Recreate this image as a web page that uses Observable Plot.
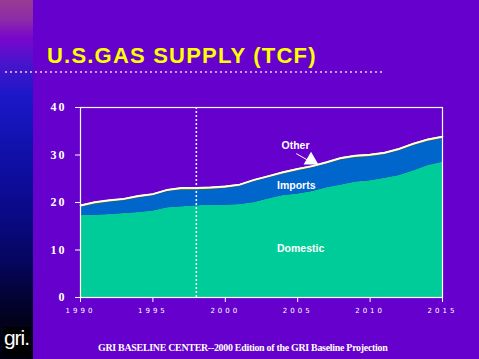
<!DOCTYPE html>
<html>
<head>
<meta charset="utf-8">
<script src="https://cdn.jsdelivr.net/npm/d3@7"></script>
<script src="https://cdn.jsdelivr.net/npm/@observablehq/plot@0.6"></script>
<style>
  html, body { margin: 0; padding: 0; }
  body { width: 479px; height: 359px; overflow: hidden; background: #6600CC; position: relative; font-family: "Liberation Sans", Arial, sans-serif; }
  #strip { position: absolute; left: 0; top: 0; width: 33px; height: 359px;
    background: linear-gradient(to bottom, #9a3c92 0px, #8c2aa8 20px, #7a06cc 38px, #4a14cc 62px, #1c18c8 95px, #1212b0 140px, #0c0c96 190px, #08087a 230px, #05055a 265px, #030338 295px, #02021c 320px, #000010 359px); }
  #logo { position: absolute; left: 3px; top: 327px; width: 27px; height: 29px; background: #000; color: #fff; overflow: hidden;
    font-family: "Liberation Sans Narrow", "Arial Narrow", "Liberation Sans", sans-serif; font-size: 21px; line-height: 22px; text-align: center; letter-spacing: -1px; }
  #title { position: absolute; left: 47px; top: 45px; color: #FFFF00; font-weight: bold; font-size: 22px; line-height: 22px; letter-spacing: 1.2px; white-space: nowrap; }
  #rule { position: absolute; left: 5px; top: 71px; width: 378px; height: 2px;
    background: repeating-linear-gradient(to right, #CC99EE 0px, #CC99EE 2px, transparent 2px, transparent 5px); }
  #chart { position: absolute; left: 0; top: 0; }
  #footer { position: absolute; left: 98px; width: 288px; top: 341px; color: #fff; font-family: "Liberation Serif", "Times New Roman", serif; font-weight: bold; font-size: 11px; line-height: 12px; letter-spacing: -0.3px; white-space: nowrap; }
  #footer span { display: inline-block; transform-origin: 0 0; transform: scaleX(0.9); }
</style>
</head>
<body>
<div id="strip"></div>
<div id="logo">gri.</div>
<div id="title">U.S.GAS SUPPLY (TCF)</div>
<div id="rule"></div>
<div id="chart"></div>
<div id="footer"><span>GRI BASELINE CENTER--2000 Edition of the GRI Baseline Projection</span></div>
<script>
const years = d3.range(1990, 2016);
const domestic = [17.3,17.3,17.5,17.7,17.9,18.2,18.9,19.1,19.3,19.4,19.4,19.6,20.0,20.8,21.5,21.8,22.3,23.1,23.7,24.3,24.6,25.1,25.7,26.7,27.8,28.5];
const imports  = [1.7,2.4,2.6,2.7,3.1,3.2,3.4,3.6,3.4,3.4,3.6,3.8,4.4,4.4,4.5,4.9,5.0,5.0,5.3,5.2,5.1,5.0,5.2,5.3,5.1,5.0];
const other    = [0.4,0.4,0.4,0.4,0.4,0.4,0.4,0.4,0.4,0.4,0.4,0.4,0.4,0.4,0.4,0.4,0.4,0.4,0.4,0.4,0.4,0.4,0.4,0.4,0.4,0.4];
const seriesNames = ["Domestic", "Imports", "Other"];
const seriesColors = ["#00CC99", "#0066CC", "#FFFF00"];
const yTicks = [0, 10, 20, 30, 40];
const xTicks = [1990, 1995, 2000, 2005, 2010, 2015];
const baseYear = 1998;
const labels = [
  {text: "Domestic", x: 2005.2, y: 10.2},
  {text: "Imports", x: 2004.9, y: 23.6},
  {text: "Other", x: 2004.85, y: 32.0}
];
const arrowLine = [{x1: 2004.9, y1: 30.3, x2: 2005.7, y2: 28.9}];
const arrowHead = [{x: 2005.92, y: 28.9}];

const table = [];
years.forEach((yr, i) => {
  table.push({year: yr, series: "Domestic", value: domestic[i]});
  table.push({year: yr, series: "Imports", value: imports[i]});
  table.push({year: yr, series: "Other", value: other[i]});
});
const totals = years.map((yr, i) => ({year: yr, total: domestic[i] + imports[i] + other[i]}));

const chart = Plot.plot({
  width: 479,
  height: 330,
  marginLeft: 80,
  marginRight: 37,
  marginTop: 107,
  marginBottom: 33,
  style: {background: "transparent", color: "#fff", overflow: "visible"},
  x: {domain: [1990, 2015], ticks: xTicks, tickFormat: "d", label: null},
  y: {domain: [0, 40], ticks: yTicks, label: null},
  color: {domain: seriesNames, range: seriesColors},
  marks: [
    Plot.areaY(table, {x: "year", y: "value", fill: "series", order: seriesNames}),
    Plot.lineY(totals, {x: "year", y: "total", stroke: "#fff", strokeWidth: 1.6}),
    Plot.ruleX([baseYear], {stroke: "#fff", strokeWidth: 1.5, strokeDasharray: "2,2"}),
    Plot.frame({stroke: "#fff", strokeWidth: 1.2}),
    Plot.axisY({ticks: yTicks, tickSize: 5, tickPadding: 9, stroke: "#fff", fill: "#fff",
      fontFamily: "Liberation Serif, Times New Roman, serif", fontWeight: "bold", fontSize: 12, label: null}),
    Plot.axisX({ticks: xTicks, tickSize: 5, tickPadding: 6, tickFormat: "d", stroke: "#fff", fill: "#fff",
      fontFamily: "DejaVu Sans, sans-serif", fontSize: 7, label: null}),
    Plot.text(labels, {x: "x", y: "y", text: "text", fill: "#fff", fontWeight: "bold", fontSize: 10.5,
      fontFamily: "Liberation Sans, Arial, sans-serif"}),
    Plot.link(arrowLine, {x1: "x1", y1: "y1", x2: "x2", y2: "y2", stroke: "#fff", strokeWidth: 1}),
    Plot.dot(arrowHead, {x: "x", y: "y", symbol: "triangle", r: 5.5, fill: "#fff", stroke: "none"})
  ]
});
chart.querySelectorAll("g[aria-label='x-axis tick label'] text").forEach(t => t.setAttribute("letter-spacing", "3"));
chart.querySelectorAll("g[aria-label='y-axis tick label'] text").forEach(t => t.setAttribute("letter-spacing", "2"));
document.getElementById("chart").appendChild(chart);
</script>
</body>
</html>
